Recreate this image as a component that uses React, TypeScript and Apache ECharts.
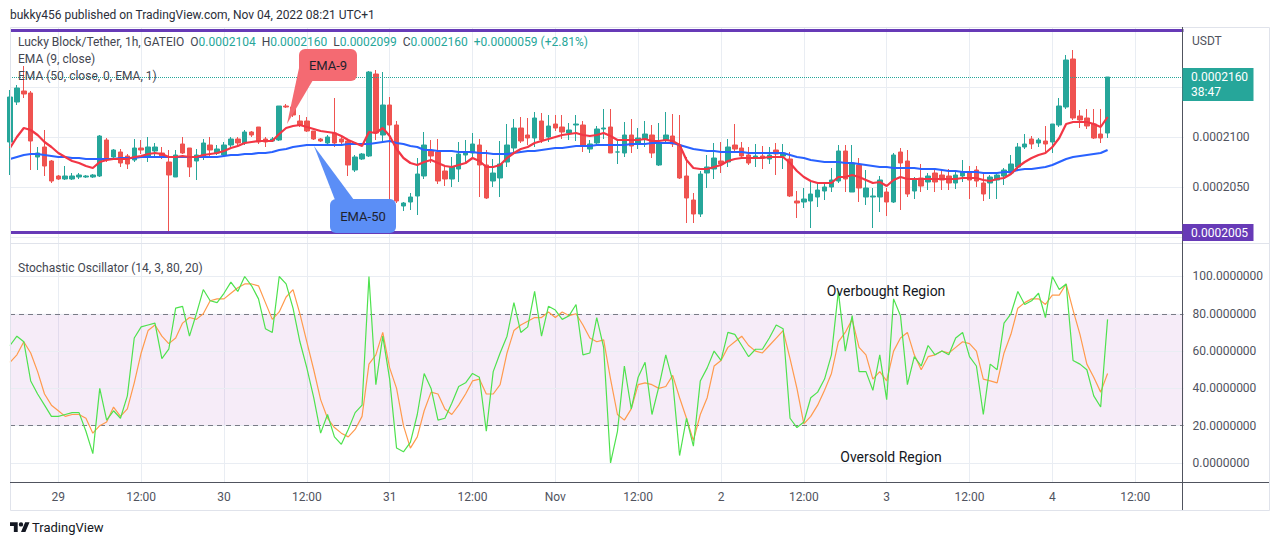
import React, { useEffect, useRef } from "react";
import * as echarts from "echarts";

// ---- layout (pixels) ----
const W = 1280;
const H = 546;
const PLOT_LEFT = 10;
const PLOT_RIGHT = 1183.5;
const PRICE_TOP = 27;
const PANE_SPLIT = 243;
const TIME_AXIS_Y = 482;
const FRAME_BOTTOM = 510;
const FRAME_RIGHT = 1269;

// ---- axes ----
// prices are in units of 1e-7 USDT (2104 = 0.0002104)
const PRICE_MIN = 1994;
const PRICE_MAX = 2210;
const STOCH_MIN = -10.19;
const STOCH_MAX = 117.96;

// hourly slots, slot 0 = Oct 28 17:00; 171 slots incl. empty right margin
const SLOT_COUNT = 171;
const tickLabels = ["29", "12:00", "30", "12:00", "31", "12:00", "Nov", "12:00", "2", "12:00", "3", "12:00", "4", "12:00"];
const firstTickIndex = 7;
const tickStep = 12;

const priceGridLines = [2000, 2050, 2100, 2150];
const priceAxisLabels = [2050, 2100];
const stochGridLines = [0, 20, 40, 60, 80, 100];
const stochAxisLabels = [0, 20, 40, 60, 80, 100];
const stochBand = [20, 80];

const lastPrice = 2160;
const supportLevel = 2005;
const resistanceLevel = 2207;

// ---- candles (1h) ----
const open = [
  2095, 2135, 2146, 2144, 2080, 2090, 2076, 2061, 2058, 2058,
  2060, 2060, 2060, 2061, 2097, 2080, 2085, 2081, 2077, 2089,
  2080, 2086, 2084, 2075, 2060, 2093, 2089, 2076, 2080, 2092,
  2084, 2082, 2092, 2098, 2094, 2105, 2110, 2098, 2096, 2097,
  2131, 2130, 2116, 2116, 2106, 2098, 2094, 2104, 2098, 2096,
  2067, 2078, 2081, 2163, 2102, 2132, 2112, 2031, 2035, 2041,
  2061, 2086, 2085, 2066, 2058, 2068, 2082, 2084, 2092, 2072,
  2056, 2059, 2075, 2089, 2109, 2102, 2099, 2116, 2100, 2113,
  2110, 2104, 2112, 2112, 2088, 2094, 2108, 2110, 2085, 2084,
  2102, 2093, 2098, 2102, 2072, 2097, 2101, 2092, 2061, 2037,
  2023, 2064, 2068, 2076, 2075, 2092, 2089, 2082, 2079, 2081,
  2078, 2087, 2081, 2078, 2036, 2035, 2036, 2040, 2046, 2050,
  2056, 2086, 2045, 2072, 2040, 2040, 2040, 2045, 2035, 2085,
  2076, 2046, 2059, 2055, 2064, 2062, 2061, 2054, 2061, 2065,
  2067, 2054, 2054, 2057, 2061, 2064, 2070, 2090, 2098, 2094,
  2096, 2095, 2112, 2130, 2178, 2121, 2119, 2113, 2103, 2104,
];
const high = [
  2147, 2152, 2171, 2146, 2090, 2107, 2077, 2062, 2071, 2064,
  2064, 2062, 2063, 2102, 2099, 2088, 2088, 2083, 2098, 2097,
  2100, 2094, 2090, 2087, 2087, 2100, 2089, 2088, 2098, 2100,
  2092, 2095, 2100, 2100, 2107, 2106, 2110, 2100, 2100, 2131,
  2133, 2131, 2122, 2120, 2106, 2099, 2102, 2139, 2100, 2098,
  2082, 2084, 2166, 2167, 2165, 2140, 2116, 2035, 2044, 2079,
  2105, 2097, 2098, 2071, 2080, 2095, 2097, 2104, 2098, 2087,
  2078, 2096, 2113, 2118, 2120, 2119, 2125, 2124, 2122, 2122,
  2122, 2114, 2122, 2116, 2097, 2111, 2128, 2128, 2097, 2115,
  2118, 2109, 2116, 2112, 2114, 2125, 2123, 2122, 2080, 2044,
  2066, 2082, 2094, 2095, 2098, 2113, 2095, 2090, 2093, 2091,
  2090, 2094, 2093, 2085, 2046, 2049, 2055, 2054, 2053, 2069,
  2092, 2092, 2092, 2079, 2067, 2049, 2061, 2049, 2084, 2089,
  2087, 2060, 2073, 2064, 2067, 2068, 2068, 2067, 2077, 2071,
  2071, 2064, 2062, 2064, 2069, 2082, 2094, 2103, 2101, 2099,
  2111, 2113, 2139, 2182, 2187, 2127, 2128, 2128, 2128, 2160,
];
const low = [
  2062, 2132, 2139, 2067, 2067, 2061, 2054, 2057, 2057, 2057,
  2058, 2059, 2059, 2060, 2075, 2077, 2070, 2068, 2075, 2083,
  2075, 2080, 2078, 2004, 2060, 2083, 2060, 2057, 2077, 2081,
  2082, 2080, 2090, 2090, 2092, 2100, 2093, 2090, 2095, 2096,
  2129, 2120, 2110, 2105, 2097, 2095, 2092, 2090, 2093, 2061,
  2065, 2077, 2080, 2097, 2095, 2026, 2034, 2026, 2027, 2022,
  2058, 2074, 2053, 2051, 2050, 2055, 2075, 2078, 2040, 2038,
  2050, 2040, 2070, 2085, 2094, 2092, 2090, 2094, 2095, 2106,
  2098, 2097, 2096, 2085, 2084, 2092, 2098, 2084, 2073, 2080,
  2084, 2088, 2090, 2079, 2071, 2095, 2090, 2058, 2014, 2014,
  2020, 2049, 2058, 2064, 2070, 2084, 2079, 2072, 2070, 2068,
  2073, 2062, 2068, 2040, 2019, 2029, 2009, 2030, 2037, 2045,
  2054, 2045, 2045, 2035, 2032, 2009, 2025, 2021, 2034, 2027,
  2040, 2038, 2045, 2047, 2045, 2047, 2047, 2048, 2055, 2038,
  2050, 2036, 2038, 2038, 2052, 2062, 2068, 2088, 2088, 2090,
  2085, 2084, 2110, 2128, 2117, 2109, 2108, 2098, 2094, 2099,
];
const close = [
  2140, 2149, 2143, 2096, 2084, 2071, 2056, 2058, 2061, 2061,
  2062, 2061, 2062, 2101, 2078, 2087, 2074, 2073, 2089, 2087,
  2090, 2090, 2080, 2062, 2082, 2084, 2070, 2082, 2094, 2087,
  2088, 2092, 2098, 2094, 2105, 2102, 2095, 2095, 2098, 2131,
  2130, 2122, 2112, 2106, 2098, 2096, 2100, 2094, 2095, 2072,
  2080, 2083, 2165, 2104, 2132, 2112, 2036, 2034, 2040, 2063,
  2092, 2081, 2056, 2058, 2070, 2083, 2085, 2093, 2072, 2039,
  2064, 2073, 2092, 2109, 2096, 2099, 2119, 2097, 2111, 2109,
  2105, 2107, 2113, 2092, 2093, 2108, 2109, 2084, 2085, 2102,
  2091, 2099, 2103, 2084, 2093, 2102, 2093, 2059, 2039, 2023,
  2063, 2070, 2079, 2073, 2090, 2088, 2081, 2074, 2081, 2079,
  2082, 2083, 2084, 2041, 2034, 2038, 2043, 2047, 2050, 2057,
  2086, 2058, 2074, 2049, 2049, 2041, 2057, 2035, 2082, 2074,
  2043, 2057, 2051, 2061, 2055, 2057, 2054, 2062, 2065, 2057,
  2056, 2043, 2060, 2062, 2067, 2073, 2090, 2093, 2093, 2097,
  2093, 2113, 2131, 2177, 2119, 2117, 2111, 2099, 2099, 2160,
];

// ---- moving averages ----
const ema9 = [
  2089, 2100, 2109, 2107, 2102, 2095, 2090, 2084, 2080, 2076,
  2074, 2071, 2069, 2075, 2077, 2078, 2078, 2078, 2080, 2081,
  2083, 2084, 2083, 2080, 2080, 2081, 2080, 2080, 2082, 2083,
  2084, 2086, 2089, 2091, 2094, 2095, 2096, 2096, 2096, 2103,
  2109, 2111, 2112, 2110, 2108, 2106, 2105, 2104, 2101, 2097,
  2094, 2091, 2105, 2104, 2109, 2101, 2088, 2079, 2074, 2072,
  2075, 2077, 2074, 2071, 2070, 2072, 2074, 2079, 2076, 2070,
  2070, 2072, 2079, 2084, 2088, 2090, 2094, 2096, 2098, 2100,
  2102, 2103, 2104, 2102, 2101, 2102, 2104, 2101, 2097, 2097,
  2097, 2097, 2098, 2096, 2096, 2097, 2096, 2092, 2077, 2069,
  2068, 2068, 2070, 2072, 2076, 2078, 2079, 2079, 2079, 2079,
  2080, 2080, 2080, 2074, 2066, 2060, 2056, 2054, 2054, 2054,
  2060, 2060, 2062, 2060, 2057, 2054, 2055, 2051, 2057, 2060,
  2058, 2058, 2058, 2058, 2058, 2058, 2058, 2058, 2059, 2059,
  2059, 2057, 2056, 2058, 2059, 2063, 2070, 2075, 2079, 2082,
  2084, 2090, 2099, 2113, 2115, 2115, 2115, 2113, 2110, 2120,
];
const ema50 = [
  2078, 2080, 2082, 2083, 2083, 2082, 2081, 2080, 2080, 2079,
  2079, 2078, 2078, 2078, 2078, 2078, 2079, 2079, 2079, 2080,
  2080, 2080, 2080, 2080, 2080, 2080, 2080, 2080, 2080, 2080,
  2080, 2081, 2082, 2082, 2083, 2083, 2084, 2084, 2085, 2087,
  2088, 2090, 2091, 2092, 2092, 2092, 2092, 2092, 2092, 2093,
  2093, 2093, 2093, 2094, 2095, 2096, 2094, 2093, 2091, 2090,
  2087, 2087, 2086, 2086, 2086, 2085, 2085, 2085, 2084, 2084,
  2083, 2083, 2083, 2084, 2085, 2086, 2086, 2087, 2088, 2089,
  2089, 2090, 2091, 2091, 2091, 2092, 2092, 2092, 2092, 2092,
  2093, 2093, 2093, 2094, 2094, 2094, 2094, 2092, 2090, 2088,
  2087, 2086, 2086, 2085, 2085, 2085, 2085, 2084, 2084, 2084,
  2084, 2084, 2084, 2082, 2080, 2079, 2077, 2076, 2075, 2075,
  2075, 2074, 2074, 2073, 2072, 2071, 2070, 2070, 2069, 2069,
  2069, 2069, 2068, 2068, 2068, 2067, 2066, 2066, 2065, 2065,
  2065, 2064, 2064, 2064, 2065, 2065, 2067, 2068, 2068, 2069,
  2070, 2072, 2075, 2078, 2080, 2081, 2082, 2083, 2084, 2087,
];

// ---- stochastic oscillator (14, 3) ----
const stochK = [
  63, 68, 65, 44, 37, 31, 25, 25, 26, 27,
  27, 17, 5, 40, 23, 28, 24, 36, 67, 73,
  74, 75, 56, 61, 83, 84, 68, 80, 93, 87,
  86, 91, 97, 92, 100, 95, 88, 72, 70, 100,
  96, 83, 65, 51, 35, 16, 26, 14, 10, 18,
  27, 31, 100, 42, 68, 45, 8, 6, 11, 26,
  48, 40, 23, 24, 32, 41, 43, 48, 46, 17,
  49, 59, 68, 86, 70, 73, 92, 68, 84, 82,
  77, 79, 85, 58, 59, 78, 62, 0, 17, 52,
  29, 46, 54, 26, 41, 58, 44, 4, 24, 9,
  44, 51, 60, 55, 70, 69, 63, 57, 61, 61,
  67, 74, 72, 24, 19, 22, 35, 38, 45, 58,
  92, 60, 79, 49, 49, 39, 58, 34, 88, 79,
  42, 57, 52, 63, 58, 60, 58, 67, 70, 57,
  52, 26, 53, 50, 75, 80, 92, 85, 87, 91,
  78, 100, 93, 96, 55, 53, 50, 36, 30, 77,
];
const stochD = [
  54, 58, 65, 59, 49, 37, 31, 28, 25, 26,
  26, 24, 16, 20, 22, 30, 25, 29, 43, 59,
  71, 74, 68, 64, 67, 75, 78, 77, 80, 87,
  88, 88, 91, 94, 96, 96, 95, 86, 77, 81,
  89, 93, 80, 65, 50, 34, 24, 19, 16, 14,
  18, 25, 53, 58, 70, 51, 40, 20, 8, 14,
  28, 38, 37, 29, 26, 31, 37, 44, 45, 37,
  37, 42, 59, 71, 74, 76, 78, 78, 81, 78,
  81, 79, 80, 74, 67, 65, 66, 45, 26, 23,
  29, 42, 43, 42, 40, 41, 47, 35, 24, 12,
  26, 35, 52, 55, 62, 65, 68, 63, 60, 59,
  63, 67, 71, 56, 40, 21, 25, 31, 39, 48,
  65, 70, 77, 62, 58, 45, 49, 44, 60, 67,
  70, 58, 50, 57, 58, 60, 59, 62, 65, 64,
  60, 45, 44, 43, 59, 69, 83, 86, 88, 88,
  85, 90, 90, 96, 82, 69, 53, 46, 38, 48,
];

const changeText = "+0.0000059 (+2.81%)";
const countdown = "38:47";

const UP = "#26a69a";
const DOWN = "#ef5350";
const GRID = "#e9edf3";
const TEXT = "#434651";
const FONT = "Roboto, sans-serif";

const fmtPrice = (v: number) => (v / 1e7).toFixed(7);
const priceToY = (v: number) =>
  PRICE_TOP + ((PRICE_MAX - v) / (PRICE_MAX - PRICE_MIN)) * (PANE_SPLIT - PRICE_TOP);

const isTick = (i: number) =>
  i >= firstTickIndex &&
  (i - firstTickIndex) % tickStep === 0 &&
  (i - firstTickIndex) / tickStep < tickLabels.length;

const TV_LOGO =
  "M14 22H7V11H0V4h14v18zM28 22h-8l7.5-18h8L28 22zM24 8a4 4 0 1 1-8 0a4 4 0 1 1 8 0z";
let logoRegistered = false;

function txt(text: string, x: number, y: number, o: any = {}) {
  const align = o.align || "left";
  return {
    type: "text",
    x,
    y,
    z: o.z ?? 100,
    silent: true,
    style: {
      text,
      fill: o.color || TEXT,
      font: `${o.weight || "normal"} ${o.size || 12}px ${FONT}`,
      textAlign: align,
      align,
      textVerticalAlign: "middle",
      verticalAlign: "middle",
      ...(o.rich ? { rich: o.rich } : {}),
    },
  };
}

export default function App() {
  const ref = useRef<HTMLDivElement>(null);

  useEffect(() => {
    if (!ref.current) return;
    if (!logoRegistered) {
      echarts.graphic.registerShape("tvlogo", echarts.graphic.extendPath(TV_LOGO, {}) as any);
      logoRegistered = true;
    }
    const chart = echarts.init(ref.current, null, { renderer: "svg", width: W, height: H });

    const categories = Array.from({ length: SLOT_COUNT }, (_, i) => String(i));
    const candles = open.map((o, i) => [o, close[i], low[i], high[i]]);
    const last = open.length - 1;
    const plotWidth = PLOT_RIGHT - PLOT_LEFT;

    const xBase = (gridIndex: number, showLabels: boolean) => ({
      type: "category",
      gridIndex,
      data: categories,
      boundaryGap: false,
      axisLine: { show: false },
      axisTick: { show: false },
      axisLabel: showLabels
        ? {
            show: true,
            interval: (i: number) => isTick(i),
            formatter: (_v: string, i: number) =>
              isTick(i) ? tickLabels[(i - firstTickIndex) / tickStep] : "",
            color: "#50535e",
            fontSize: 12,
            fontFamily: FONT,
            margin: 9,
          }
        : { show: false },
      splitLine: {
        show: true,
        interval: (i: number) => isTick(i),
        lineStyle: { color: GRID, width: 1 },
      },
    });

    const legendLine =
      "{g|Lucky Block/Tether, 1h, GATEIO}  " +
      `{g|O}{v|${fmtPrice(open[last])}}  {g|H}{v|${fmtPrice(high[last])}}  ` +
      `{g|L}{v|${fmtPrice(low[last])}}  {g|C}{v|${fmtPrice(close[last])}}  {v|${changeText}}`;

    const tagW = 71;
    const lastY = priceToY(lastPrice);
    const supY = priceToY(supportLevel);

    const option: any = {
      animation: false,
      backgroundColor: "#ffffff",
      textStyle: { fontFamily: FONT },
      grid: [
        { left: PLOT_LEFT, top: PRICE_TOP, width: plotWidth, height: PANE_SPLIT - PRICE_TOP },
        { left: PLOT_LEFT, top: PANE_SPLIT, width: plotWidth, height: TIME_AXIS_Y - PANE_SPLIT },
      ],
      xAxis: [xBase(0, false), xBase(1, true)],
      yAxis: [
        {
          type: "value",
          gridIndex: 0,
          position: "right",
          min: PRICE_MIN,
          max: PRICE_MAX,
          axisLine: { show: false },
          axisTick: { show: false },
          splitLine: { show: false },
          axisLabel: {
            margin: 9,
            color: "#50535e",
            fontSize: 12,
            fontFamily: FONT,
            formatter: (v: number) =>
              priceAxisLabels.indexOf(Math.round(v)) >= 0 && Math.abs(v - Math.round(v)) < 1e-6
                ? fmtPrice(v)
                : "",
          },
        },
        {
          type: "value",
          gridIndex: 1,
          position: "right",
          min: STOCH_MIN,
          max: STOCH_MAX,
          splitNumber: 6,
          axisLine: { show: false },
          axisTick: { show: false },
          splitLine: { show: false },
          axisLabel: {
            margin: 9,
            color: "#50535e",
            fontSize: 12,
            fontFamily: FONT,
            formatter: (v: number) =>
              stochAxisLabels.indexOf(Math.round(v)) >= 0 && Math.abs(v - Math.round(v)) < 1e-6
                ? Number(v).toFixed(7)
                : "",
          },
        },
      ],
      series: [
        {
          name: "priceGrid",
          type: "line",
          xAxisIndex: 0,
          yAxisIndex: 0,
          data: [],
          silent: true,
          markLine: {
            silent: true,
            z: 1,
            symbol: ["none", "none"],
            label: { show: false },
            lineStyle: { color: GRID, width: 1, type: "solid" },
            data: priceGridLines.map((v) => ({ yAxis: v })),
          },
        },
        {
          name: "Lucky Block/Tether",
          type: "candlestick",
          xAxisIndex: 0,
          yAxisIndex: 0,
          z: 2,
          barWidth: 5,
          clip: true,
          data: candles,
          itemStyle: {
            color: UP,
            color0: DOWN,
            borderColor: UP,
            borderColor0: DOWN,
            borderWidth: 1,
          },
          markLine: {
            silent: true,
            symbol: ["none", "none"],
            label: { show: false },
            data: [
              { yAxis: resistanceLevel, lineStyle: { color: "#673ab7", width: 3, type: "solid" } },
              { yAxis: supportLevel, lineStyle: { color: "#673ab7", width: 3, type: "solid" } },
              { yAxis: lastPrice, lineStyle: { color: UP, width: 1, type: "dotted" } },
            ],
          },
        },
        {
          name: "EMA (50)",
          type: "line",
          xAxisIndex: 0,
          yAxisIndex: 0,
          z: 3,
          data: ema50,
          symbol: "none",
          lineStyle: { color: "#2962ff", width: 2.2 },
          itemStyle: { color: "#2962ff" },
        },
        {
          name: "EMA (9)",
          type: "line",
          xAxisIndex: 0,
          yAxisIndex: 0,
          z: 3,
          data: ema9,
          symbol: "none",
          lineStyle: { color: "#f23645", width: 2.2 },
          itemStyle: { color: "#f23645" },
        },
        {
          name: "stochGrid",
          type: "line",
          xAxisIndex: 1,
          yAxisIndex: 1,
          data: [],
          silent: true,
          markArea: {
            silent: true,
            itemStyle: { color: "rgba(156, 39, 176, 0.09)" },
            data: [[{ yAxis: stochBand[0] }, { yAxis: stochBand[1] }]],
          },
          markLine: {
            silent: true,
            z: 1,
            symbol: ["none", "none"],
            label: { show: false },
            lineStyle: { color: GRID, width: 1, type: "solid" },
            data: stochGridLines.map((v) => ({ yAxis: v })),
          },
        },
        {
          name: "stochBands",
          type: "line",
          xAxisIndex: 1,
          yAxisIndex: 1,
          data: [],
          silent: true,
          markLine: {
            silent: true,
            z: 2,
            symbol: ["none", "none"],
            label: { show: false },
            lineStyle: { color: "#787b86", width: 1, type: [5, 4] },
            data: stochBand.map((v) => ({ yAxis: v })),
          },
        },
        {
          name: "%D",
          type: "line",
          xAxisIndex: 1,
          yAxisIndex: 1,
          z: 3,
          data: stochD,
          symbol: "none",
          lineStyle: { color: "#ff9a4d", width: 1.2 },
          itemStyle: { color: "#ff9a4d" },
        },
        {
          name: "%K",
          type: "line",
          xAxisIndex: 1,
          yAxisIndex: 1,
          z: 4,
          data: stochK,
          symbol: "none",
          lineStyle: { color: "#4ee24e", width: 1.2 },
          itemStyle: { color: "#4ee24e" },
        },
      ],
      graphic: {
        elements: [
          // frame
          {
            type: "rect",
            z: 50,
            silent: true,
            shape: { x: 10.5, y: 27.5, width: FRAME_RIGHT - 10, height: FRAME_BOTTOM - 27 },
            style: { fill: "none", stroke: "#e0e3eb", lineWidth: 1 },
          },
          {
            type: "line",
            z: 50,
            silent: true,
            shape: { x1: 10, y1: PANE_SPLIT + 0.5, x2: FRAME_RIGHT, y2: PANE_SPLIT + 0.5 },
            style: { stroke: "#e0e3eb", lineWidth: 1 },
          },
          {
            type: "line",
            z: 50,
            silent: true,
            shape: { x1: 10, y1: TIME_AXIS_Y + 0.5, x2: FRAME_RIGHT, y2: TIME_AXIS_Y + 0.5 },
            style: { stroke: "#50535e", lineWidth: 1 },
          },
          {
            type: "line",
            z: 50,
            silent: true,
            shape: { x1: PLOT_RIGHT - 1, y1: 27, x2: PLOT_RIGHT - 1, y2: FRAME_BOTTOM },
            style: { stroke: "#50535e", lineWidth: 1 },
          },
          // header
          txt("bukky456 published on TradingView.com, Nov 04, 2022 08:21 UTC+1", 10, 15, { color: "#2a2e39" }),
          txt(legendLine, 18, 42, {
            rich: { g: { fill: TEXT, color: TEXT }, v: { fill: UP, color: UP } },
          }),
          txt("EMA (9, close)", 18, 59),
          txt("EMA (50, close, 0, EMA, 1)", 18, 76),
          txt("Stochastic Oscillator (14, 3, 80, 20)", 18, 268),
          txt("Overbought Region", 886, 291, { align: "center", size: 14, color: "#131722" }),
          txt("Oversold Region", 891, 457, { align: "center", size: 14, color: "#131722" }),
          txt("USDT", 1192, 41, { color: "#50535e" }),
          // EMA-9 callout
          {
            type: "polygon",
            z: 90,
            silent: true,
            shape: { points: [[299, 68], [313, 80], [287, 124]] },
            style: { fill: "#f46a72" },
          },
          {
            type: "rect",
            z: 91,
            silent: true,
            shape: { x: 299, y: 49, width: 58, height: 32, r: 6 },
            style: { fill: "#f46a72" },
          },
          txt("EMA-9", 328, 65, { align: "center", size: 13, color: "#1e222d", z: 92 }),
          // EMA-50 callout
          {
            type: "polygon",
            z: 90,
            silent: true,
            shape: { points: [[314, 146], [335, 200], [354, 200]] },
            style: { fill: "#5b8ef6" },
          },
          {
            type: "rect",
            z: 91,
            silent: true,
            shape: { x: 330, y: 199, width: 66, height: 34, r: 6 },
            style: { fill: "#5b8ef6" },
          },
          txt("EMA-50", 363, 216, { align: "center", size: 13, color: "#1e222d", z: 92 }),
          // price tags
          {
            type: "rect",
            z: 95,
            silent: true,
            shape: { x: PLOT_RIGHT - 1, y: lastY - 9, width: tagW, height: 33 },
            style: { fill: UP },
          },
          txt(fmtPrice(lastPrice), 1191, lastY, { color: "#ffffff", z: 96 }),
          txt(countdown, 1191, lastY + 15, { color: "#ffffff", z: 96 }),
          {
            type: "rect",
            z: 95,
            silent: true,
            shape: { x: PLOT_RIGHT - 1, y: supY - 8, width: tagW, height: 17 },
            style: { fill: "#673ab7" },
          },
          txt(fmtPrice(supportLevel), 1191, supY + 0.5, { color: "#ffffff", z: 96 }),
          // footer logo
          {
            type: "tvlogo",
            x: 10,
            y: 520,
            scaleX: 0.55,
            scaleY: 0.55,
            z: 100,
            silent: true,
            style: { fill: "#131722" },
          },
          txt("TradingView", 32, 527, { size: 13, color: "#131722" }),
        ],
      },
    };

    chart.setOption(option);
    return () => chart.dispose();
  }, []);

  return (
    <div
      ref={ref}
      style={{ position: "absolute", left: 0, top: 0, width: W, height: H, background: "#fff" }}
    />
  );
}
